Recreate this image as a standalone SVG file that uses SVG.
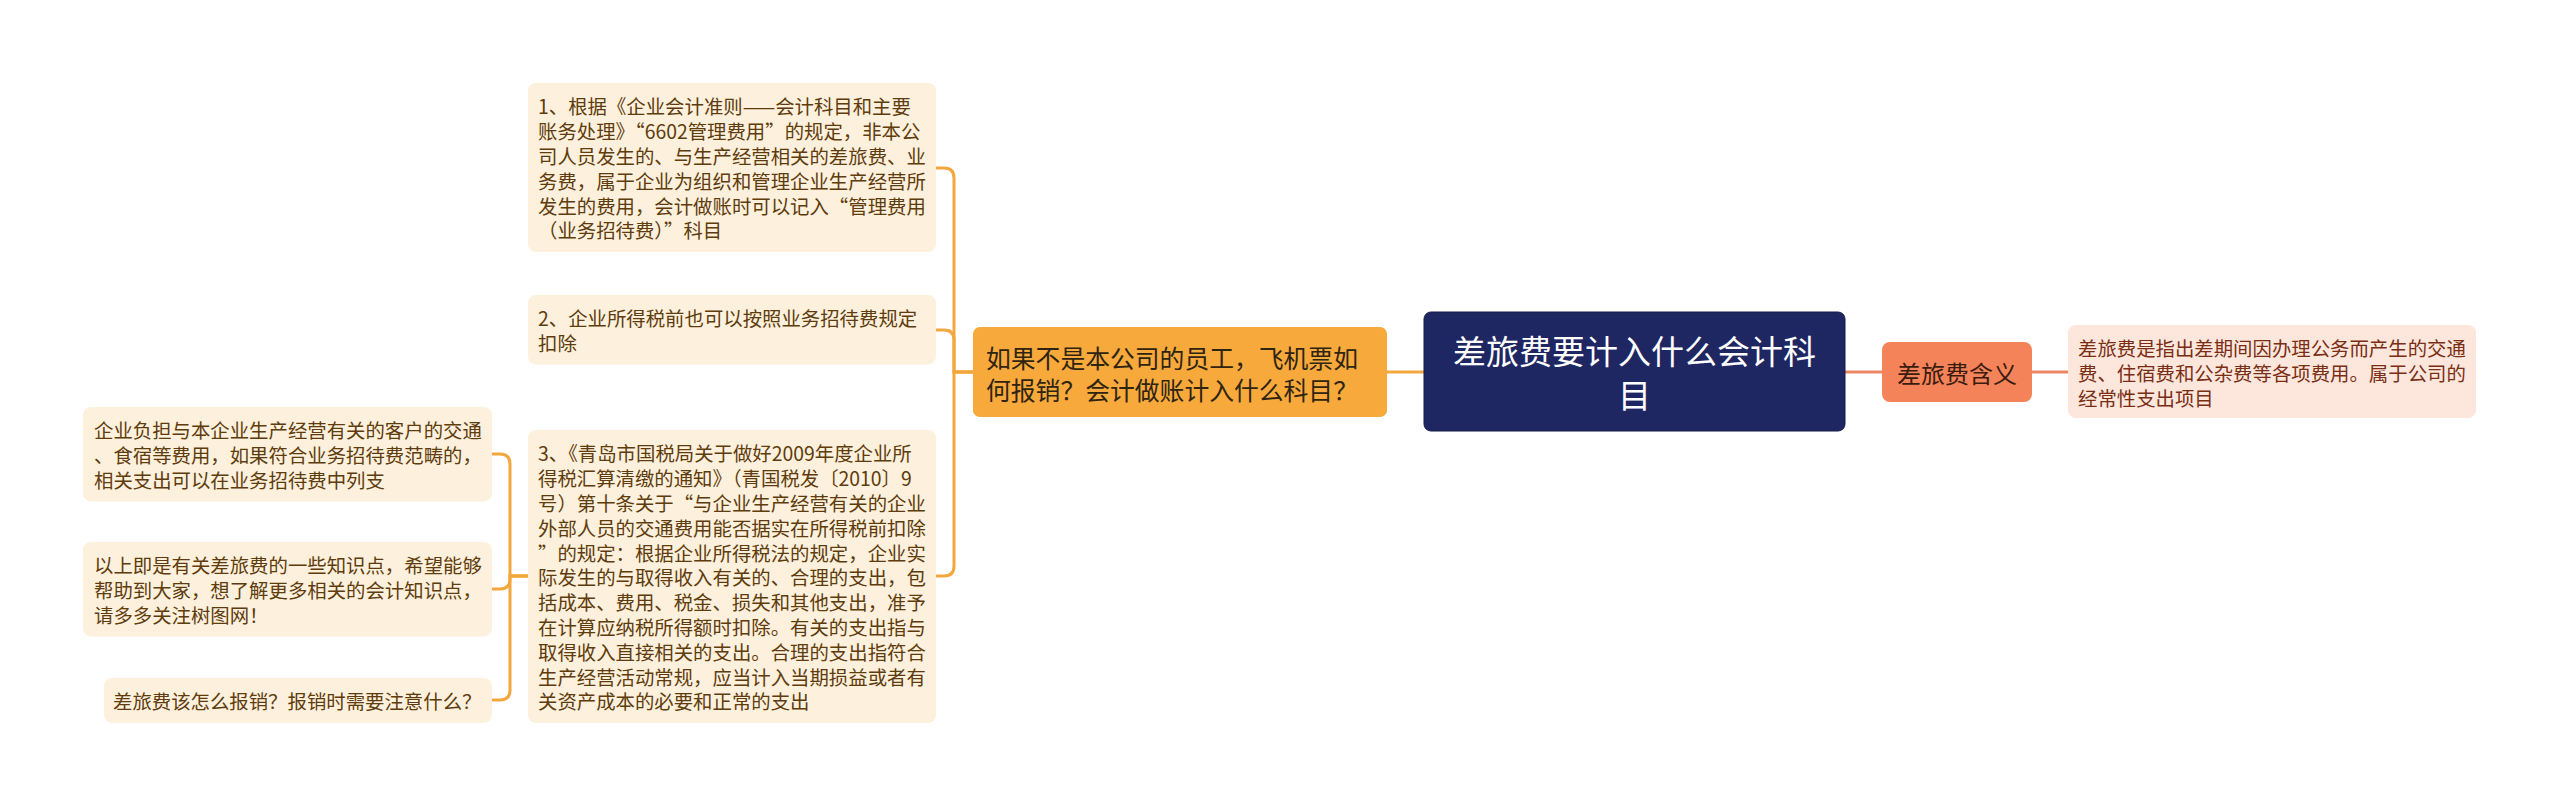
<svg xmlns="http://www.w3.org/2000/svg" width="2560" height="807" viewBox="0 0 2560 807">
<style>
text{font-family:"Noto Sans CJK SC","Noto Sans",sans-serif;dominant-baseline:central}
.cream{fill:#FDF0DD}
.ct{font-size:19.4px;fill:#5E3C0C}
.conO{fill:none;stroke:#F3A73E;stroke-width:3}
.conR{fill:none;stroke:#EE8862;stroke-width:3}
</style>
<rect width="2560" height="807" fill="#FFFFFF"/>
<g id="connectors">
<path class="conO" d="M1424 372 H1387"/>
<path class="conO" d="M973 372 H954 V178 Q954 168 944 168 H936"/>
<path class="conO" d="M973 372 H954 V340 Q954 330 944 330 H936"/>
<path class="conO" d="M973 372 H954 V566 Q954 576 944 576 H936"/>
<path class="conO" d="M528 576 H510 V464 Q510 454 500 454 H492"/>
<path class="conO" d="M528 576 H510 V579 Q510 589 500 589 H492"/>
<path class="conO" d="M528 576 H510 V690 Q510 700 500 700 H492"/>
<path class="conR" d="M1845 372 H1882"/>
<path class="conR" d="M2032 372 H2068"/>
</g>
<g id="root">
<rect x="1424" y="312" width="421" height="119" rx="7" fill="#1F2763" stroke="#151B4A" stroke-width="1"/>
<text x="1634.5" y="349.5" font-size="33" fill="#FFFFFF" text-anchor="middle">差旅费要计入什么会计科</text>
<text x="1634.5" y="393.5" font-size="33" fill="#FFFFFF" text-anchor="middle">目</text>
</g>
<g id="mid">
<rect x="973" y="327" width="414" height="90" rx="7" fill="#F8A93B"/>
<text x="986" y="357" font-size="24.8" fill="#2E2412">如果不是本公司的员工，飞机票如</text>
<text x="986" y="389" font-size="24.8" fill="#2E2412">何报销？会计做账计入什么科目？</text>
</g>
<g id="node1">
<rect class="cream" x="528" y="83" width="408" height="169" rx="8"/>
<text class="ct" x="538"><tspan x="538" y="105.4">1、根据《企业会计准则——会计科目和主要</tspan><tspan x="538" y="130.2">账务处理》“6602管理费用”的规定，非本公</tspan><tspan x="538" y="155">司人员发生的、与生产经营相关的差旅费、业</tspan><tspan x="538" y="179.8">务费，属于企业为组织和管理企业生产经营所</tspan><tspan x="538" y="204.6">发生的费用，会计做账时可以记入“管理费用</tspan><tspan x="538" y="229.4">（业务招待费）”科目</tspan></text>
</g>
<g id="node2">
<rect class="cream" x="528" y="295" width="408" height="69.6" rx="8"/>
<text class="ct" x="538"><tspan x="538" y="317.4">2、企业所得税前也可以按照业务招待费规定</tspan><tspan x="538" y="342.2">扣除</tspan></text>
</g>
<g id="node3">
<rect class="cream" x="528" y="430" width="408" height="293" rx="8"/>
<text class="ct" x="538"><tspan x="538" y="452.4">3、《青岛市国税局关于做好2009年度企业所</tspan><tspan x="538" y="477.2">得税汇算清缴的通知》（青国税发〔2010〕9</tspan><tspan x="538" y="502">号）第十条关于“与企业生产经营有关的企业</tspan><tspan x="538" y="526.8">外部人员的交通费用能否据实在所得税前扣除</tspan><tspan x="538" y="551.6">”的规定：根据企业所得税法的规定，企业实</tspan><tspan x="538" y="576.4">际发生的与取得收入有关的、合理的支出，包</tspan><tspan x="538" y="601.2">括成本、费用、税金、损失和其他支出，准予</tspan><tspan x="538" y="626">在计算应纳税所得额时扣除。有关的支出指与</tspan><tspan x="538" y="650.8">取得收入直接相关的支出。合理的支出指符合</tspan><tspan x="538" y="675.6">生产经营活动常规，应当计入当期损益或者有</tspan><tspan x="538" y="700.4">关资产成本的必要和正常的支出</tspan></text>
</g>
<g id="left1">
<rect class="cream" x="83" y="407" width="409" height="94.4" rx="8"/>
<text class="ct" x="94"><tspan x="94" y="429.4">企业负担与本企业生产经营有关的客户的交通</tspan><tspan x="94" y="454.2">、食宿等费用，如果符合业务招待费范畴的，</tspan><tspan x="94" y="479">相关支出可以在业务招待费中列支</tspan></text>
</g>
<g id="left2">
<rect class="cream" x="83" y="542" width="409" height="94.4" rx="8"/>
<text class="ct" x="94"><tspan x="94" y="564.4">以上即是有关差旅费的一些知识点，希望能够</tspan><tspan x="94" y="589.2">帮助到大家，想了解更多相关的会计知识点，</tspan><tspan x="94" y="614">请多多关注树图网！</tspan></text>
</g>
<g id="left3">
<rect class="cream" x="104" y="678" width="388" height="44.8" rx="8"/>
<text class="ct" x="113" y="700.4">差旅费该怎么报销？报销时需要注意什么？</text>
</g>
<g id="meaning">
<rect x="1882" y="342" width="150" height="60" rx="8" fill="#F5835A"/>
<text x="1957" y="372" font-size="24" fill="#3A1C0E" text-anchor="middle">差旅费含义</text>
</g>
<g id="meaningDetail">
<rect x="2068" y="325" width="408" height="93" rx="8" fill="#FDE7DD"/>
<text font-size="19.4" fill="#7A2E14"><tspan x="2078" y="347">差旅费是指出差期间因办理公务而产生的交通</tspan><tspan x="2078" y="371.8">费、住宿费和公杂费等各项费用。属于公司的</tspan><tspan x="2078" y="396.6">经常性支出项目</tspan></text>
</g>
</svg>
